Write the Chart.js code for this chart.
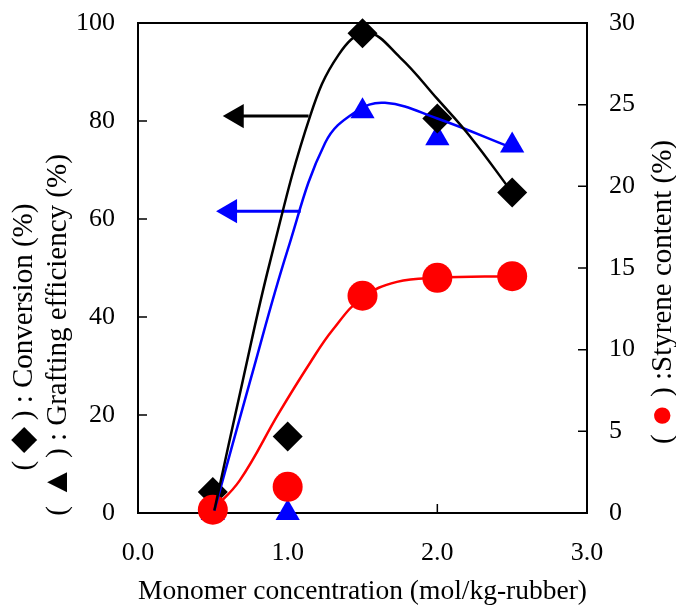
<!DOCTYPE html>
<html>
<head>
<meta charset="utf-8">
<script src="https://cdn.jsdelivr.net/npm/chart.js@4.4.0/dist/chart.umd.min.js"></script>
<style>
  body { margin: 0; background: #fff; }
  #wrap { width: 676px; height: 608px; }
</style>
</head>
<body>
<div id="wrap"><canvas id="chart"></canvas></div>
<script>
// measured points
const concentration = [0.5, 1.0, 1.5, 2.0, 2.5];
const conversion = [4.3, 15.6, 97.9, 80.5, 65.4];
const grafting = [0, 0, 82, 76.5, 75];
const styrene = [0.2, 1.6, 13.3, 14.4, 14.5];

// hand drawn fit curves
const conversionFitX = [0.51, 0.70, 0.88, 1.15, 1.34, 1.53, 1.75, 2.0, 2.22, 2.5];
const conversionFitY = [0.5, 27, 51, 81, 93.5, 98, 93, 84.5, 76.8, 65.4];
const graftingFitX = [0.51, 0.75, 1.0, 1.25, 1.45, 1.65, 2.0, 2.5];
const graftingFitY = [0.5, 27, 53.7, 75.5, 81.8, 83.7, 80.5, 74.5];
const styreneFitX = [0.5, 0.68, 0.94, 1.15, 1.3, 1.5, 1.73, 2.0, 2.5];
const styreneFitY = [0.2, 2.0, 6.1, 9.2, 11.2, 13.2, 14.15, 14.4, 14.5];

// arrows pointing at the left axis
const arrowConvX = [1.14, 0.66];
const arrowConvY = [81, 81];
const arrowGraftX = [1.087, 0.615];
const arrowGraftY = [61.6, 61.6];

const xTicks = [0, 1, 2, 3];
const leftTicks = [0, 20, 40, 60, 80, 100];
const rightTicks = [0, 5, 10, 15, 20, 25, 30];

const FONT = '"Liberation Serif", "Times New Roman", serif';

function pts(xs, ys) {
  return xs.map((x, i) => ({ x: x, y: ys[i] }));
}

// rotated title made of pieces (symbols may have their own size and colour)
function drawRotated(ctx, cx, cy, parts) {
  ctx.save();
  ctx.translate(cx, cy);
  ctx.rotate(-Math.PI / 2);
  ctx.textBaseline = 'middle';
  ctx.textAlign = 'left';
  let total = 0;
  parts.forEach(p => {
    ctx.font = (p.size || 29) + 'px ' + FONT;
    total += ctx.measureText(p.text).width;
  });
  let x = -total / 2;
  parts.forEach(p => {
    ctx.font = (p.size || 29) + 'px ' + FONT;
    ctx.fillStyle = p.color || '#000';
    ctx.fillText(p.text, x, p.dy || 0);
    x += ctx.measureText(p.text).width;
  });
  ctx.restore();
}

const framePlugin = {
  id: 'frame',
  beforeDatasetsDraw(chart) {
    const { ctx, chartArea: a, scales } = chart;
    ctx.save();
    ctx.strokeStyle = '#000';
    ctx.lineWidth = 2;
    ctx.strokeRect(a.left, a.top, a.right - a.left, a.bottom - a.top);
    ctx.lineWidth = 1.5;
    ctx.beginPath();
    xTicks.forEach(v => {
      const px = scales.x.getPixelForValue(v);
      ctx.moveTo(px, a.bottom);
      ctx.lineTo(px, a.bottom - 9);
    });
    leftTicks.forEach(v => {
      const py = scales.y.getPixelForValue(v);
      ctx.moveTo(a.left, py);
      ctx.lineTo(a.left + 9, py);
    });
    rightTicks.forEach(v => {
      const py = scales.y2.getPixelForValue(v);
      ctx.moveTo(a.right, py);
      ctx.lineTo(a.right - 9, py);
    });
    ctx.stroke();
    ctx.restore();
  },
  afterDraw(chart) {
    const ctx = chart.ctx;
    drawRotated(ctx, 24, 337, [
      { text: '( ' }, { text: '\u25C6', size: 34 }, { text: ' ) : Conversion (%)' }
    ]);
    drawRotated(ctx, 58, 335, [
      { text: '( ' }, { text: '\u25B2', size: 34 }, { text: ' ) : Grafting efficiency (%)' }
    ]);
    drawRotated(ctx, 663, 292, [
      { text: '( ' }, { text: '\u25CF', size: 38, color: '#ff0000' }, { text: ' ) :Styrene content (%)' }
    ]);
  }
};

const fitStyle = { pointRadius: 0, tension: 0.4, borderWidth: 2.5, order: 1 };

function fitY(width) {
  return s => { s.width = width; s.paddingTop = 0; s.paddingBottom = 0; };
}

const ctx = document.getElementById('chart').getContext('2d');
new Chart(ctx, {
  type: 'line',
  data: {
    datasets: [
      Object.assign({ data: pts(conversionFitX, conversionFitY), yAxisID: 'y', borderColor: '#000' }, fitStyle),
      Object.assign({ data: pts(graftingFitX, graftingFitY), yAxisID: 'y', borderColor: '#0000ff' }, fitStyle),
      Object.assign({ data: pts(styreneFitX, styreneFitY), yAxisID: 'y2', borderColor: '#ff0000' }, fitStyle),
      {
        data: pts(arrowConvX, arrowConvY),
        yAxisID: 'y', borderColor: '#000', backgroundColor: '#000', borderWidth: 3,
        pointStyle: 'triangle', pointRadius: [0, 14], pointRotation: -90,
        pointBorderWidth: 0, order: 1
      },
      {
        data: pts(arrowGraftX, arrowGraftY),
        yAxisID: 'y', borderColor: '#0000ff', backgroundColor: '#0000ff', borderWidth: 3,
        pointStyle: 'triangle', pointRadius: [0, 14], pointRotation: -90,
        pointBorderWidth: 0, order: 1
      },
      {
        data: pts(concentration, grafting),
        yAxisID: 'y', showLine: false, pointStyle: 'triangle', pointRadius: 14,
        backgroundColor: '#0000ff', borderColor: '#0000ff', pointBorderWidth: 0, order: 4
      },
      {
        data: pts(concentration, conversion),
        yAxisID: 'y', showLine: false, pointStyle: 'rectRot', pointRadius: 15,
        backgroundColor: '#000', borderColor: '#000', pointBorderWidth: 0, order: 3
      },
      {
        data: pts(concentration, styrene),
        yAxisID: 'y2', showLine: false, pointStyle: 'circle', pointRadius: 15,
        backgroundColor: '#ff0000', borderColor: '#ff0000', pointBorderWidth: 0, order: 2
      }
    ]
  },
  options: {
    responsive: true,
    maintainAspectRatio: false,
    animation: false,
    clip: false,
    layout: { padding: { top: 23, left: 0, right: 0, bottom: 0 } },
    plugins: { legend: { display: false }, tooltip: { enabled: false } },
    scales: {
      x: {
        type: 'linear', min: 0, max: 3,
        afterFit: s => { s.height = 95; },
        afterBuildTicks: s => { s.ticks = xTicks.map(v => ({ value: v })); },
        grid: { display: false, drawTicks: false },
        border: { display: false },
        ticks: {
          color: '#000', padding: 25, maxRotation: 0,
          font: { family: FONT, size: 26 },
          callback: v => v.toFixed(1)
        },
        title: {
          display: true, text: 'Monomer concentration (mol/kg-rubber)',
          color: '#000', font: { family: FONT, size: 27.5 }, padding: { top: 2, bottom: 0 }
        }
      },
      y: {
        position: 'left', min: 0, max: 100,
        afterFit: fitY(138),
        afterBuildTicks: s => { s.ticks = leftTicks.map(v => ({ value: v })); },
        grid: { display: false, drawTicks: false },
        border: { display: false },
        ticks: { color: '#000', padding: 23, font: { family: FONT, size: 26 } }
      },
      y2: {
        position: 'right', min: 0, max: 30,
        afterFit: fitY(89),
        afterBuildTicks: s => { s.ticks = rightTicks.map(v => ({ value: v })); },
        grid: { display: false, drawTicks: false },
        border: { display: false },
        ticks: { color: '#000', padding: 22, font: { family: FONT, size: 26 } }
      }
    }
  },
  plugins: [framePlugin]
});
</script>
</body>
</html>
